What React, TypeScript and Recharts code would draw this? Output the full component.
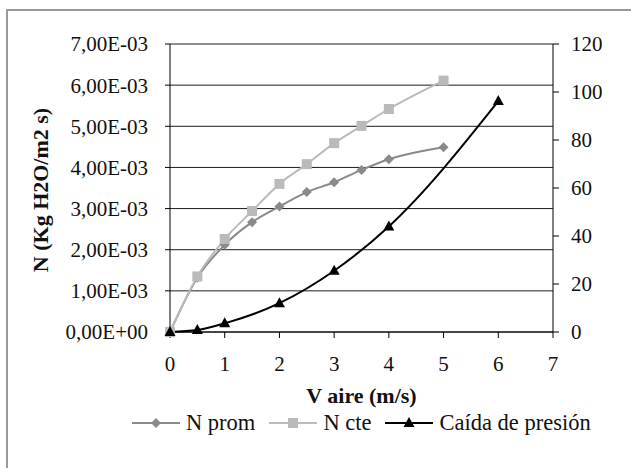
import React from "react";
import { LineChart, Line, XAxis, YAxis, CartesianGrid } from "recharts";

const promX = [0, 0.5, 1, 1.5, 2, 2.5, 3, 3.5, 4, 5];
const promY = [0, 0.00132, 0.00212, 0.00267, 0.00305, 0.0034, 0.00364, 0.00394, 0.0042, 0.00449];
const cteX = [0, 0.5, 1, 1.5, 2, 2.5, 3, 3.5, 4, 5];
const cteY = [0, 0.00135, 0.00226, 0.00294, 0.0036, 0.00408, 0.00459, 0.00501, 0.00542, 0.00611];
const caidaX = [0, 0.5, 1, 2, 3, 4, 6];
const caidaY = [0, 0.8, 3.6, 12, 25.5, 44, 96.2];

const xTicks = [0, 1, 2, 3, 4, 5, 6, 7];
const leftTicks = [0, 0.001, 0.002, 0.003, 0.004, 0.005, 0.006, 0.007];
const rightTicks = [0, 20, 40, 60, 80, 100, 120];

const seriesNames = ["N prom", "N cte", "Caída de presión"];
const xTitle = "V aire (m/s)";
const yTitle = "N (Kg H2O/m2 s)";

const promData = promX.map((x, i) => ({ x, y: promY[i] }));
const cteData = cteX.map((x, i) => ({ x, y: cteY[i] }));
const caidaData = caidaX.map((x, i) => ({ x, y: caidaY[i] }));

const FONT = "'Liberation Serif', 'Times New Roman', serif";
const C_PROM = "#8a8a8a";
const C_CTE = "#bababa";
const C_CAIDA = "#000000";

const fmtLeft = (v: number) => {
  if (v === 0) return "0,00E+00";
  return (v * 1000).toFixed(2).replace(".", ",") + "E-03";
};

const Diamond = (props: any) => {
  const { cx, cy, fill, index } = props;
  if (cx == null || cy == null) return <g key={"d" + index} />;
  const r = 5;
  return <path key={"d" + index} d={`M${cx},${cy - r}L${cx + r},${cy}L${cx},${cy + r}L${cx - r},${cy}Z`} fill={fill} />;
};
const Square = (props: any) => {
  const { cx, cy, fill, index } = props;
  if (cx == null || cy == null) return <g key={"s" + index} />;
  const r = 5;
  return <rect key={"s" + index} x={cx - r} y={cy - r} width={2 * r} height={2 * r} fill={fill} />;
};
const Triangle = (props: any) => {
  const { cx, cy, fill, index } = props;
  if (cx == null || cy == null) return <g key={"t" + index} />;
  return <path key={"t" + index} d={`M${cx},${cy - 6}L${cx + 5.5},${cy + 4}L${cx - 5.5},${cy + 4}Z`} fill={fill} />;
};

const LegendIcon = ({ color, kind }: { color: string; kind: string }) => (
  <svg width={48} height={14} style={{ display: "block" }}>
    <line x1={0} y1={7} x2={48} y2={7} stroke={color} strokeWidth={2} />
    {kind === "d" && <path d="M24,2L29,7L24,12L19,7Z" fill={color} />}
    {kind === "s" && <rect x={19} y={2} width={10} height={10} fill={color} />}
    {kind === "t" && <path d="M24,1L29.5,11L18.5,11Z" fill={color} />}
  </svg>
);

export default function App() {
  const items = [
    { name: seriesNames[0], color: C_PROM, kind: "d" },
    { name: seriesNames[1], color: C_CTE, kind: "s" },
    { name: seriesNames[2], color: C_CAIDA, kind: "t" },
  ];
  return (
    <div style={{ position: "fixed", left: 0, top: 0, width: 631, height: 468, overflow: "hidden", background: "#fff", fontFamily: FONT }}>
      <div style={{ position: "absolute", left: 6, top: 9, width: 700, height: 600, borderLeft: "2px solid #999", borderTop: "2px solid #999" }} />
      <div style={{ position: "absolute", left: 0, top: 0 }}>
        <LineChart width={631} height={468} margin={{ top: 44, right: 0, bottom: 0, left: 0 }}>
          <CartesianGrid yAxisId="left" vertical={false} stroke="#1a1a1a" strokeWidth={1} />
          <XAxis
            type="number"
            dataKey="x"
            domain={[0, 7]}
            ticks={xTicks}
            allowDuplicatedCategory={false}
            height={136}
            tickSize={6}
            tickMargin={18}
            stroke="#000"
            tick={{ fill: "#111", fontSize: 21, fontFamily: FONT }}
            label={{
              value: xTitle,
              position: "insideBottom",
              offset: 65,
              style: { fill: "#111", fontSize: 22, fontWeight: "bold", fontFamily: FONT },
            }}
          />
          <YAxis
            yAxisId="left"
            type="number"
            domain={[0, 0.007]}
            ticks={leftTicks}
            width={170}
            tickSize={5}
            tickMargin={17}
            stroke="#000"
            tickFormatter={fmtLeft}
            tick={{ fill: "#111", fontSize: 21, fontFamily: FONT }}
            label={{
              content: (p: any) => {
                const vb = p.viewBox || {};
                const x = 48;
                const y = (vb.y ?? 44) + (vb.height ?? 288) / 2 + 2;
                return (
                  <text x={x} y={y} transform={`rotate(-90, ${x}, ${y})`} textAnchor="middle" fill="#111" fontSize={22} fontWeight="bold" fontFamily={FONT}>
                    {yTitle}
                  </text>
                );
              },
            }}
          />
          <YAxis
            yAxisId="right"
            orientation="right"
            type="number"
            domain={[0, 120]}
            ticks={rightTicks}
            width={78}
            tickSize={6}
            tickMargin={12}
            stroke="#000"
            tick={{ fill: "#111", fontSize: 21, fontFamily: FONT }}
          />
          <Line yAxisId="left" data={promData} dataKey="y" name={seriesNames[0]} type="monotone" stroke={C_PROM} strokeWidth={2} dot={(p: any) => <Diamond {...p} fill={C_PROM} />} isAnimationActive={false} />
          <Line yAxisId="left" data={cteData} dataKey="y" name={seriesNames[1]} type="monotone" stroke={C_CTE} strokeWidth={2} dot={(p: any) => <Square {...p} fill={C_CTE} />} isAnimationActive={false} />
          <Line yAxisId="right" data={caidaData} dataKey="y" name={seriesNames[2]} type="monotone" stroke={C_CAIDA} strokeWidth={2} dot={(p: any) => <Triangle {...p} fill={C_CAIDA} />} isAnimationActive={false} />
        </LineChart>
      </div>
      <div style={{ position: "absolute", left: 132, top: 410, display: "flex", alignItems: "center", fontSize: 22.5, color: "#111", lineHeight: "26px" }}>
        {items.map((it, i) => (
          <div key={it.name} style={{ display: "flex", alignItems: "center", marginRight: i < 2 ? 14 : 0 }}>
            <LegendIcon color={it.color} kind={it.kind} />
            <span style={{ marginLeft: 6, whiteSpace: "nowrap" }}>{it.name}</span>
          </div>
        ))}
      </div>
    </div>
  );
}
